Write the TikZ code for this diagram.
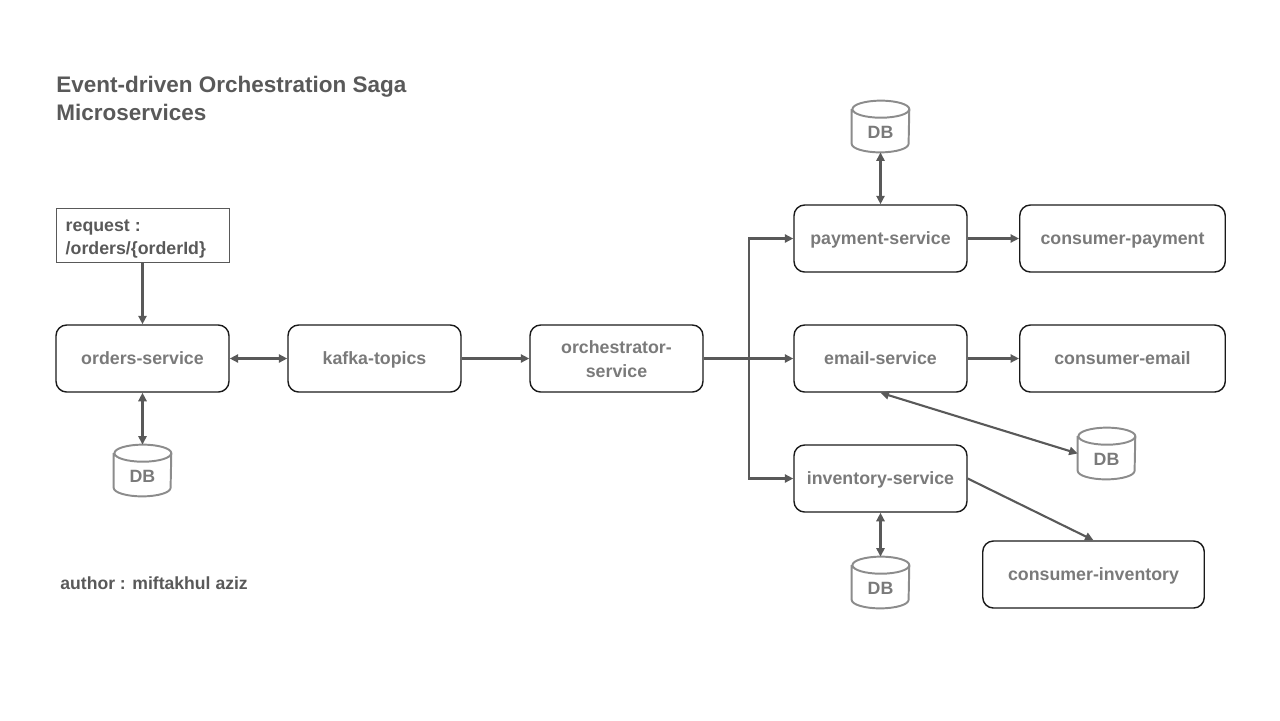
\documentclass[tikz,border=0pt]{standalone}
\usepackage{fontspec}
\setmainfont{Liberation Sans}
\usetikzlibrary{arrows.meta}
\definecolor{ink}{HTML}{595959}
\definecolor{soft}{HTML}{7A7A7A}
\definecolor{dbline}{HTML}{8C8C8C}
\definecolor{boxline}{HTML}{1A1A1A}
\tikzset{
  x=0.5625pt,y=-0.5625pt,
  svc/.style={draw=boxline,line width=0.8pt,rounded corners=6pt,minimum height=37.7pt,inner sep=0pt,align=center,text=soft,text height=9.8pt,text depth=3pt,font=\fontsize{10}{13}\selectfont\bfseries},
  svctwo/.style={svc,text height=,text depth=},
  dbnode/.style={minimum width=32pt,minimum height=28.7pt,inner sep=0pt,text=soft,text height=13.5pt,text depth=0pt,font=\fontsize{10}{12}\selectfont\bfseries},
  req/.style={draw=ink,line width=0.4pt,minimum width=97.3pt,minimum height=30.4pt,inner sep=0pt,text=ink,align=left,font=\fontsize{10}{13}\selectfont\bfseries},
  lbl/.style={inner sep=0pt,text=ink,align=left,anchor=north west},
  conn/.style={draw=ink,line width=1.18pt,-{Triangle[length=4.8pt,width=4.6pt]}},
  conn2/.style={draw=ink,line width=1.18pt,{Triangle[length=4.8pt,width=4.6pt]}-{Triangle[length=4.8pt,width=4.6pt]}},
  dbarc/.style={x radius=16pt,y radius=4.8pt},
}
\newcommand{\dbshape}[1]{%
  \draw[dbline,line width=1.1pt]
    ([yshift=-4.8pt]#1.north west) -- ([yshift=4.8pt]#1.south west)
    arc[start angle=180,end angle=360,dbarc]
    -- ([yshift=-4.8pt]#1.north east)
    arc[start angle=0,end angle=180,dbarc]
    arc[start angle=180,end angle=360,dbarc];
}
\begin{document}
\begin{tikzpicture}
\useasboundingbox (0,0) rectangle (1280,720);
\node[lbl,font=\fontsize{12.65}{15.8}\selectfont\bfseries] (title) at (56,75.5) {Event-driven Orchestration Saga\\Microservices};
\node[lbl,font=\fontsize{9.9}{13}\selectfont\bfseries] (author) at (60,576) {author : miftakhul aziz};

\node[req] (req) at (142.5,235.5) {\makebox[86.4pt][l]{\rule{0pt}{10.6pt}request :}\\\makebox[86.4pt][l]{/orders/\{orderId\}}};

\node[svc,minimum width=97.3pt] (orders) at (142.5,358.5) {orders-service};
\node[svc,minimum width=97.3pt] (kafka) at (374.5,358.5) {kafka-topics};
\node[svctwo,minimum width=97.3pt] (orch) at (616.5,358.5) {\rule{0pt}{8pt}orchestrator-\\service};
\node[svc,minimum width=97.3pt] (pay) at (880.5,238.5) {payment-service};
\node[svc,minimum width=97.3pt] (email) at (880.5,358.5) {email-service};
\node[svc,minimum width=97.3pt] (inv) at (880.5,478.5) {inventory-service};
\node[svc,minimum width=115.6pt] (cpay) at (1122.5,238.5) {consumer-payment};
\node[svc,minimum width=115.6pt] (cemail) at (1122.5,358.5) {consumer-email};
\node[svc,minimum width=124.6pt] (cinv) at (1093.5,574.5) {consumer-inventory};

\node[dbnode] (db1) at (142.5,470.5) {DB};
\node[dbnode] (db2) at (880.5,126.5) {DB};
\node[dbnode] (db3) at (1106.5,453.5) {DB};
\node[dbnode] (db4) at (880.5,582.5) {DB};
\dbshape{db1}\dbshape{db2}\dbshape{db3}\dbshape{db4}

\coordinate (junction) at (749,358.5);
\draw[conn] (req.south) -- (orders.north);
\draw[conn2] (orders.east) -- (kafka.west);
\draw[conn2] (orders.south) -- (db1.north);
\draw[conn] (kafka.east) -- (orch.west);
\draw[conn] (orch.east) -- (email.west);
\draw[conn] (junction) |- (pay.west);
\draw[conn] (junction) |- (inv.west);
\draw[conn] (pay.east) -- (cpay.west);
\draw[conn] (email.east) -- (cemail.west);
\draw[conn2] (pay.north) -- (db2.south);
\draw[conn2] (inv.south) -- (db4.north);
\draw[conn2] (email.south) -- (db3.west);
\draw[conn] (inv.east) -- (cinv.north);
\end{tikzpicture}
\end{document}
